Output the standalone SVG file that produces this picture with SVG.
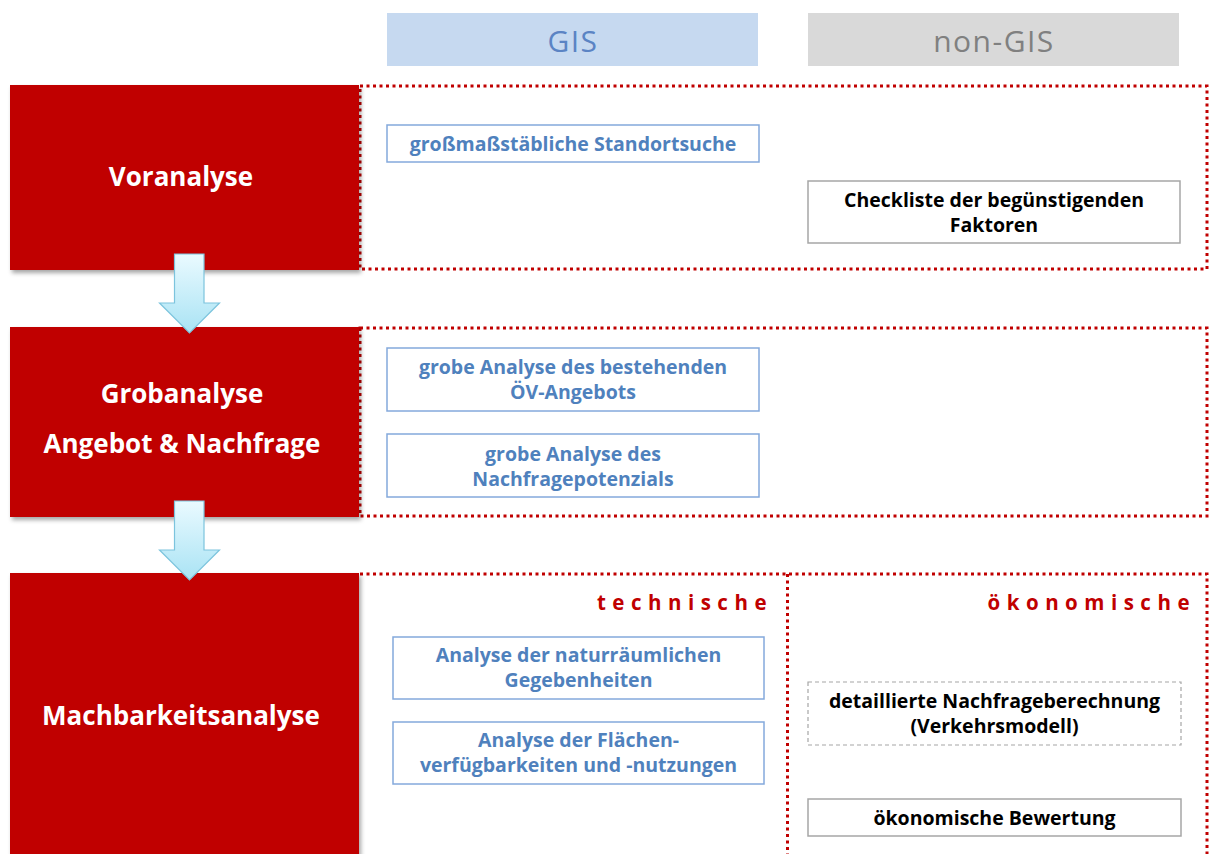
<svg xmlns="http://www.w3.org/2000/svg" width="1209" height="854" viewBox="0 0 1209 854">
  <defs>
    <style>
      .hdr { font-family: "Open Sans", "Liberation Sans", sans-serif; font-size: 30px; letter-spacing: 1.5px; text-anchor: middle; }
      .phase { fill: #c00000; }
      .phase-label { font-family: "Open Sans", "Liberation Sans", sans-serif; font-weight: 700; font-size: 26px; fill: #ffffff; text-anchor: middle; }
      .frame { fill: none; stroke: #c00000; stroke-width: 3; stroke-dasharray: 3 3.5; }
      .gis-box { fill: #ffffff; stroke: #84a9dc; stroke-width: 1.5; }
      .gis-text { font-family: "Open Sans", "Liberation Sans", sans-serif; font-weight: 700; font-size: 19.5px; fill: #4f81bd; text-anchor: middle; }
      .std-box { fill: #ffffff; stroke: #a6a6a6; stroke-width: 1.5; }
      .dash-box { fill: #ffffff; stroke: #a6a6a6; stroke-width: 1.2; stroke-dasharray: 4 3; }
      .std-text { font-family: "Open Sans", "Liberation Sans", sans-serif; font-weight: 700; font-size: 19.5px; fill: #000000; text-anchor: middle; }
      .cat { font-family: "Open Sans", "Liberation Sans", sans-serif; font-weight: 700; font-size: 20.5px; fill: #c00000; letter-spacing: 6.5px; text-anchor: end; }
      .flow { fill: url(#flowFill); stroke: #7cc4dd; stroke-width: 1.2; }
    </style>
    <linearGradient id="flowFill" x1="0" y1="0" x2="0" y2="1">
      <stop offset="0" stop-color="#eafaff"/>
      <stop offset="1" stop-color="#a9e3f4"/>
    </linearGradient>
    <filter id="shadow" x="-5%" y="-5%" width="115%" height="115%">
      <feDropShadow dx="2" dy="3" stdDeviation="2" flood-color="#000000" flood-opacity="0.35"/>
    </filter>
  </defs>

  <!-- column headers -->
  <g id="header-gis">
    <rect x="387" y="13" width="371" height="53" fill="#c6d9f0"/>
    <text class="hdr" x="573" y="52" fill="#5b84c4">GIS</text>
  </g>
  <g id="header-nongis">
    <rect x="808" y="13" width="371" height="53" fill="#d9d9d9"/>
    <text class="hdr" x="994" y="52" fill="#808080">non-GIS</text>
  </g>

  <!-- dotted frames of each phase row -->
  <g id="frames">
    <rect class="frame" x="360" y="86" width="847" height="183"/>
    <rect class="frame" x="360" y="328" width="847" height="188"/>
    <path class="frame" d="M360 574 H1207 V854 M787.5 574 V854"/>
  </g>

  <!-- phases -->
  <g id="phase-voranalyse">
    <rect class="phase" x="10" y="85" width="349" height="185" filter="url(#shadow)"/>
    <text class="phase-label" x="181" y="186">Voranalyse</text>
  </g>
  <g id="phase-grobanalyse">
    <rect class="phase" x="10" y="327" width="349" height="190" filter="url(#shadow)"/>
    <text class="phase-label" x="182" y="403">Grobanalyse</text>
    <text class="phase-label" x="182" y="453">Angebot &amp; Nachfrage</text>
  </g>
  <g id="phase-machbarkeit">
    <rect class="phase" x="10" y="573" width="349" height="290" filter="url(#shadow)"/>
    <text class="phase-label" x="181" y="725">Machbarkeitsanalyse</text>
  </g>

  <!-- flow arrows between phases -->
  <g id="connectors">
    <path class="flow" d="M174.5 254 H204 V303 H219.5 L189.5 333 L159.5 303 H174.5 Z"/>
    <path class="flow" d="M174.5 501 H204 V550 H219.5 L189.5 580 L159.5 550 H174.5 Z"/>
  </g>

  <!-- Voranalyse tasks -->
  <g id="task-standortsuche">
    <rect class="gis-box" x="387" y="125" width="372" height="37"/>
    <text class="gis-text" x="573" y="151">großmaßstäbliche Standortsuche</text>
  </g>
  <g id="task-checkliste">
    <rect class="std-box" x="808" y="181" width="372" height="62"/>
    <text class="std-text" x="994" y="207">Checkliste der begünstigenden</text>
    <text class="std-text" x="994" y="232">Faktoren</text>
  </g>

  <!-- Grobanalyse tasks -->
  <g id="task-oev-angebot">
    <rect class="gis-box" x="387" y="348" width="372" height="63"/>
    <text class="gis-text" x="573" y="374">grobe Analyse des bestehenden</text>
    <text class="gis-text" x="573" y="399">ÖV-Angebots</text>
  </g>
  <g id="task-nachfragepotenzial">
    <rect class="gis-box" x="387" y="434" width="372" height="63"/>
    <text class="gis-text" x="573" y="461">grobe Analyse des</text>
    <text class="gis-text" x="573" y="486">Nachfragepotenzials</text>
  </g>

  <!-- Machbarkeitsanalyse: categories -->
  <g id="label-technische">
    <text class="cat" x="773" y="610">technische</text>
  </g>
  <g id="label-oekonomische">
    <text class="cat" x="1196" y="610">ökonomische</text>
  </g>

  <!-- Machbarkeitsanalyse tasks -->
  <g id="task-naturraum">
    <rect class="gis-box" x="393" y="637" width="371" height="62"/>
    <text class="gis-text" x="578.5" y="662">Analyse der naturräumlichen</text>
    <text class="gis-text" x="578.5" y="687">Gegebenheiten</text>
  </g>
  <g id="task-flaechen">
    <rect class="gis-box" x="393" y="722" width="371" height="62"/>
    <text class="gis-text" x="578.5" y="747">Analyse der Flächen-</text>
    <text class="gis-text" x="578.5" y="772">verfügbarkeiten und -nutzungen</text>
  </g>
  <g id="task-nachfrageberechnung">
    <rect class="dash-box" x="808" y="682" width="373" height="63"/>
    <text class="std-text" x="994.5" y="708">detaillierte Nachfrageberechnung</text>
    <text class="std-text" x="994.5" y="733">(Verkehrsmodell)</text>
  </g>
  <g id="task-bewertung">
    <rect class="std-box" x="808" y="799" width="373" height="37"/>
    <text class="std-text" x="994.5" y="825">ökonomische Bewertung</text>
  </g>
</svg>
